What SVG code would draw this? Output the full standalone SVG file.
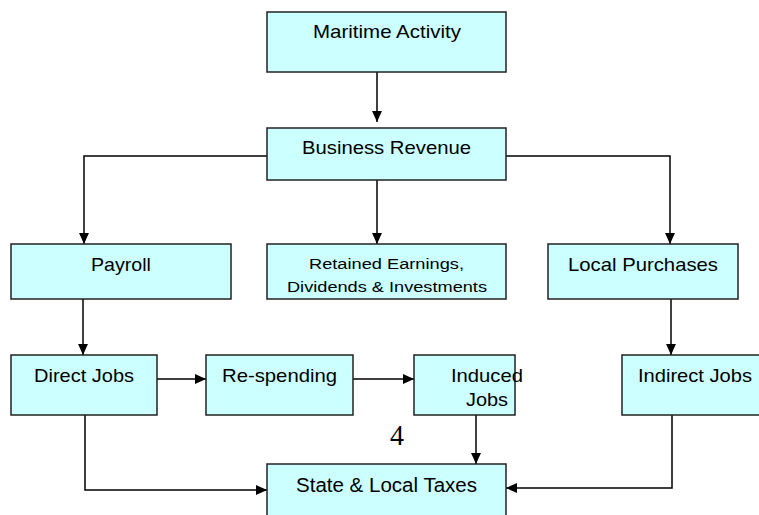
<svg xmlns="http://www.w3.org/2000/svg" width="759" height="515" viewBox="0 0 759 515">
<style>
.box{fill:#CCFFFF;stroke:#222;stroke-width:1.5}
.t{font-family:"Liberation Sans",Arial,sans-serif;font-size:18.5px;fill:#000;text-anchor:middle}
.s{font-size:15.5px}
.c{fill:none;stroke:#000;stroke-width:1.5}
</style>
<defs>
<marker id="b" viewBox="0 0 10 10" refX="10" refY="5" markerWidth="11" markerHeight="11" markerUnits="userSpaceOnUse" orient="auto"><path d="M0,0.5L10,5L0,9.5z" fill="#000"/></marker>
</defs>
<g id="connectors">
<path class="c" d="M377,72V122" marker-end="url(#b)"/>
<path class="c" d="M267,156H84V244" marker-end="url(#b)"/>
<path class="c" d="M377,180V244" marker-end="url(#b)"/>
<path class="c" d="M506,156H670V244" marker-end="url(#b)"/>
<path class="c" d="M83,299V355" marker-end="url(#b)"/>
<path class="c" d="M671,299V355" marker-end="url(#b)"/>
<path class="c" d="M157,379H206" marker-end="url(#b)"/>
<path class="c" d="M353,379H414" marker-end="url(#b)"/>
<path class="c" d="M476,415V464" marker-end="url(#b)"/>
<path class="c" d="M85,415V490H267" marker-end="url(#b)"/>
<path class="c" d="M672,415V488H506" marker-end="url(#b)"/>
</g>
<g id="maritime"><rect class="box" x="267" y="12" width="239" height="60"/><text class="t" x="387" y="38" textLength="148" lengthAdjust="spacingAndGlyphs">Maritime Activity</text></g>
<g id="revenue"><rect class="box" x="267" y="128" width="239" height="52"/><text class="t" x="386.5" y="154" textLength="169" lengthAdjust="spacingAndGlyphs">Business Revenue</text></g>
<g id="payroll"><rect class="box" x="11" y="244" width="220" height="55"/><text class="t" x="121" y="271" textLength="60" lengthAdjust="spacingAndGlyphs">Payroll</text></g>
<g id="retained"><rect class="box" x="267" y="244" width="239" height="55"/><text class="t s" x="386.5" y="269" textLength="155" lengthAdjust="spacingAndGlyphs">Retained Earnings,</text><text class="t s" x="387" y="292" textLength="200" lengthAdjust="spacingAndGlyphs">Dividends &amp; Investments</text></g>
<g id="purchases"><rect class="box" x="548" y="244" width="190" height="55"/><text class="t" x="643" y="271" textLength="150" lengthAdjust="spacingAndGlyphs">Local Purchases</text></g>
<g id="direct"><rect class="box" x="11" y="355" width="146" height="60"/><text class="t" x="84" y="382" textLength="100" lengthAdjust="spacingAndGlyphs">Direct Jobs</text></g>
<g id="respending"><rect class="box" x="206" y="355" width="147" height="60"/><text class="t" x="279.5" y="382" textLength="115" lengthAdjust="spacingAndGlyphs">Re-spending</text></g>
<g id="induced"><rect class="box" x="414" y="355" width="101" height="60"/><text class="t" x="487" y="382" textLength="72" lengthAdjust="spacingAndGlyphs">Induced</text><text class="t" x="487" y="406" textLength="42" lengthAdjust="spacingAndGlyphs">Jobs</text></g>
<g id="indirect"><rect class="box" x="622" y="355" width="140" height="60"/><text class="t" x="695" y="382" textLength="114" lengthAdjust="spacingAndGlyphs">Indirect Jobs</text></g>
<g id="taxes"><rect class="box" x="267" y="464" width="239" height="55"/><text class="t" x="386.5" y="492" style="font-size:20px" textLength="181" lengthAdjust="spacingAndGlyphs">State &amp; Local Taxes</text></g>
<text x="397" y="445" textLength="14" lengthAdjust="spacingAndGlyphs" style="font-family:'Liberation Serif','Times New Roman',serif;font-size:29px;text-anchor:middle">4</text>
</svg>
